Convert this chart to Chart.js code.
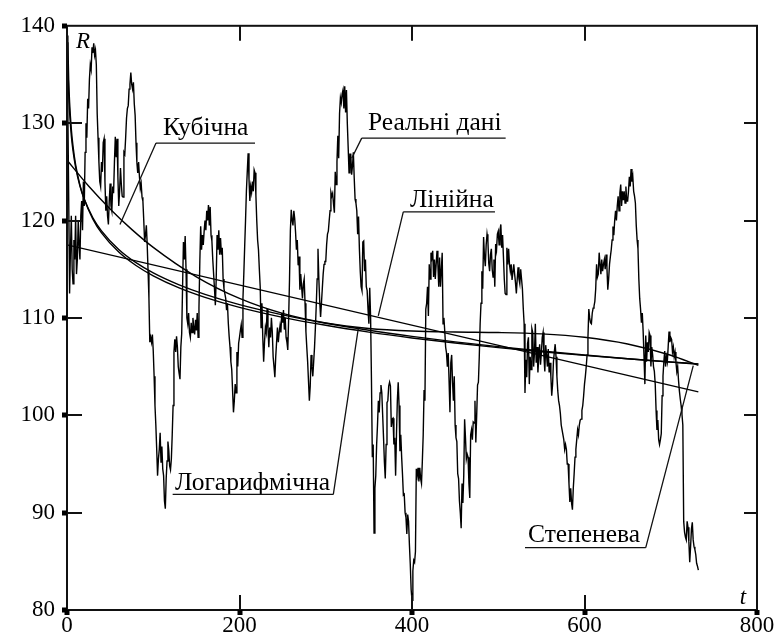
<!DOCTYPE html>
<html><head><meta charset="utf-8">
<script src="https://cdn.jsdelivr.net/npm/chart.js@4.4.0/dist/chart.umd.min.js"></script>
<style>html,body{margin:0;padding:0;background:#fff}#wrap{width:779px;height:640px}</style>
</head><body><div id="wrap"><canvas id="c" width="779" height="640"></canvas></div>
<script>
// Real data R(t), t = 0,1,2,...,732
const rData = [
139,131,122,112.5,117,120.5,115,113.5,118,116,120.5,114.5,116,120,117.5,116,120.5,122,119,124,
121.5,127,130,128.5,132.5,131.5,134.5,136,135.5,137.8,137.2,138.2,137,137.5,136,131,128.5,126,124,123.5,
126,125,128,128.4,124,121,122.5,120.5,119.6,122,123.8,121.5,121,123.5,122.8,126,128.6,126.5,128.4,124.5,
121.5,123,125.4,123.7,122.5,122.4,127,126.8,128.5,130.5,131.5,131.8,133.5,134,135.2,134,133.5,134.2,132,130.8,
128,126,124.9,126,124.5,123.3,123.8,122.4,122,120,117.8,118.5,119.5,117.5,114.8,112,107.5,108,107.5,108.3,
106.6,104,101,99,96.5,93.8,95.5,96.5,98.2,95.2,96.8,94.5,93.8,91.2,90.4,93.5,95.3,97.3,96.4,94.8,
94.4,95.5,98,101,106.5,107.8,106.5,108.1,107,105,104.3,103.7,107,108.4,113.2,117.8,116,118.4,115,110,
109.4,110.5,108.5,108,109.5,108.5,110,109,108.3,109.8,108.7,110.5,108,111,115.8,119.4,117,118.5,117.5,118.9,
120,119,121,120,121.6,119.5,121.4,118.5,117.9,116,114.5,113,111.3,114,118.5,117,119,116.5,118.2,116.5,
117.2,114,113,112.5,112,110.8,111.5,109.5,108.1,107,105.5,104.7,102.5,100.3,101.5,103.2,102.3,106.5,105,107.4,
108,108.7,109.3,108,112,114.5,117.3,120,123,125,126.9,124.3,122,123.5,122.9,124,123,125.2,124.9,122.6,
120,118,117,115,113.2,109,111.5,108,105.5,107.5,109,108.5,110.9,109,107,109,108,110,108.6,106,
105,103.9,106,107.5,109,107.5,108.5,109.2,108.5,110.5,109.5,110.8,108.8,110,108,107.5,106.7,110,114,119,
121.1,120,119.5,121,120.2,118.8,117,118,115.4,116.3,112.9,114.5,113.2,112,113.5,114,111.5,108.6,107,105.5,
103.5,101.5,103,106.2,105,104,105.5,107,109,111.3,114,117.1,114,111.7,110.1,111.5,113,114.5,115.5,115.8,
115.8,117.5,118.6,118.9,120,121,122.9,122.5,122.8,121.7,120.8,125,123.7,126,128.7,126.4,131,132.6,132.1,133,
133.4,131.5,133.8,131.1,133.4,130,127.5,124.9,126.8,126.8,124.7,125.6,127,124.4,122.2,121.8,121,118.6,120.4,117.1,
114.8,113.2,112.8,117.8,117.9,114.8,116,113.2,112.8,110.9,109.4,113.1,110.1,103.6,95.7,97,87.9,92.5,93.8,97,
99,101.5,100.3,102.3,103.1,102.3,100,97.7,95.2,93.5,97,101.3,101.5,103,103.4,103,98.8,99.6,99.7,97,
97.7,93.8,98,101.5,103.4,101,96.3,98,95.7,93.9,91.8,91.9,90,89.5,87.8,89.8,89.1,86.7,84.7,82.1,
81,84,85.1,84.9,86,94.5,93.8,94.6,93.2,94.6,93.5,93,95.3,98,102.6,101.5,110.9,111.5,113.2,110.2,
115.5,114,116.7,116.2,116.9,114.2,116,114,115.5,116.9,115.5,113.2,116.2,113.2,114.9,116.7,109.4,110,108.6,107,
106.4,105,106.4,103.5,100.3,105.4,106.2,103.4,101.5,104,99,97.7,97.3,94,93.5,91.2,90,88.4,93,91,
93.8,99.6,97.7,95.5,96,95.7,93,91.5,98,98.5,97.5,99.3,99.2,101.5,97.2,100,103.1,103.4,106,109.4,
111.5,114.8,113,118.3,116.3,115.3,117.5,118.6,117.9,115.6,114.8,116.5,117.1,115,114.2,116,113.2,117.6,117,118.6,
118.9,117.5,119,119.6,117.2,118.5,116.3,114,112.5,112.4,117.2,115.5,117.1,115.5,114.8,115.5,113.9,113.9,115.5,114.5,
113.6,112.5,114,115.2,114,113.5,115,114,113,111,109.4,102.3,105.7,103.9,107.4,108,103.2,106,104.7,108.9,
108.5,105,106.4,109.4,105.4,107,104.4,106,107.3,105.2,106.4,108,108.5,106,104.5,107.2,106.2,105,106.8,104.4,
105.4,104,102,103.2,105.5,106.5,107.3,106,104,102.5,101.5,101,100.2,99,98.5,98.5,97.5,96.5,97,96.5,
95,95,93,91.1,92.5,91,90.3,92.5,94,95.7,96.5,97.5,98.5,98,99,99.5,99.6,100.5,101,102,
103.2,104,105,106.2,108,110.9,110,109.5,109.4,110.5,111,111.2,111.7,113,115.5,114.2,114.5,116.7,115.5,114.5,
116,114.8,115.5,116,115,116.5,115.2,112.9,114,115.5,116.3,117,118,119.4,118.5,120,121,120,121.5,122.5,
121,122.8,123.7,121.5,123,122.1,123,121.8,123.5,122,122,123,124.5,123.5,125.3,124,124.5,123,122.5,121.8,
119.5,118,117.1,114,112,110.9,109.5,110.5,108.6,106,103.2,108.2,105.5,107.5,106.5,108.5,108.2,105,107,106.2,
105,104.5,103.2,100.5,98.5,99.5,97.5,97,97.5,98.1,102,104,105.5,106.6,105,106,105.5,107,108.6,107.5,
108,107.8,106.5,107,106,106.5,105.5,104.5,105,103.6,102.5,101.7,101,100.1,99,89.1,88,87.5,87.2,89.1,
88.5,87,84.9,86.5,88.3,89,87.2,86.5,86.2,85.7,84.8,84.5,84.1
];
const tData = rData.map((_, i) => i); // sampling times 0..732

// Trend curves
const fitT = [1,2,3,5,7,10,15,20,30,40,60,80,100,130,160,200,250,300,350,400,450,500,550,600,650,700,732];
const logR = [136.3,133.04,131.13,128.72,127.14,125.46,123.55,122.2,120.29,118.94,117.03,115.67,114.62,113.39,112.41,111.36,110.31,109.45,108.73,108.1,107.54,107.05,106.6,106.19,105.81,105.46,105.25];
const powR = [138.3,134.39,132.16,129.39,127.61,125.74,123.64,122.18,120.15,118.73,116.76,115.38,114.32,113.08,112.11,111.08,110.06,109.24,108.54,107.94,107.42,106.95,106.53,106.15,105.8,105.47,105.28];
const cubT = [0,25,50,75,100,150,200,250,300,350,400,450,500,550,600,650,700,732];
const cubR = [126.2,123.55,121.19,119.09,117.24,114.22,112.0,110.46,109.48,108.91,108.65,108.55,108.5,108.36,108.01,107.32,106.16,105.12];
const linT = [0,732];
const linR = [117.5,102.4];

const xTicks = [0,200,400,600,800];
const yTicks = [80,90,100,110,120,130,140];

// Callout labels (in data units): text position, underline, leader end
const callouts = [
  {text:'Кубічна',      tx:111.3, ty:128.8, u0:103.2, u1:218,   uy:127.96, from:'left',  lt:61.4,  lr:119.6},
  {text:'Реальні дані', tx:349,   ty:129.3, u0:341.7, u1:508.6, uy:128.46, from:'left',  lt:330.1, lr:126.4},
  {text:'Лінійна',      tx:397.7, ty:121.4, u0:389.9, u1:496.2, uy:120.88, from:'left',  lt:360.9, lr:110.2},
  {text:'Логарифмічна', tx:125.2, ty:92.35, u0:122.5, u1:308.8, uy:91.87,  from:'right', lt:337.7, lr:108.9},
  {text:'Степенева',    tx:534.5, ty:87.0,  u0:531,   u1:671,   uy:86.4,   from:'right', lt:726.1, lr:105.1}
];

function pts(ts, rs){ return ts.map((t,i)=>({x:t, y:rs[i]})); }
const lineStyle = {borderColor:'#000', borderWidth:1.4, pointRadius:0, tension:0, fill:false};

const framePlugin = {
  id:'frame',
  afterDraw(chart){
    const {ctx, chartArea:a, scales:{x, y}} = chart;
    ctx.save();
    ctx.strokeStyle = '#111'; ctx.fillStyle = '#000';
    ctx.lineWidth = 2;
    ctx.strokeRect(a.left, a.top, a.right-a.left, a.bottom-a.top);
    yTicks.forEach(v=>{
      const py = Math.round(y.getPixelForValue(v));
      ctx.fillRect(a.left-5, py-2.5, 5, 5);
      if (v>80 && v<140){
        ctx.beginPath(); ctx.moveTo(a.left, py); ctx.lineTo(a.left+15, py);
        ctx.moveTo(a.right, py); ctx.lineTo(a.right-13, py); ctx.stroke();
      }
    });
    xTicks.forEach(v=>{
      const px = Math.round(x.getPixelForValue(v));
      ctx.fillRect(px-2.5, a.bottom, 5, 5);
      if (v>0 && v<800){
        ctx.beginPath(); ctx.moveTo(px, a.bottom); ctx.lineTo(px, a.bottom-15);
        ctx.moveTo(px, a.top); ctx.lineTo(px, a.top+15); ctx.stroke();
      }
    });
    // axis letters
    ctx.fillStyle = '#000';
    ctx.font = 'italic 23px "Liberation Serif"';
    ctx.textAlign = 'left'; ctx.textBaseline = 'alphabetic';
    ctx.fillText('R', x.getPixelForValue(10.4), y.getPixelForValue(137.7));
    ctx.fillText('t', x.getPixelForValue(780), y.getPixelForValue(80.6));
    // callouts
    ctx.font = '25.5px "Liberation Serif"';
    ctx.lineWidth = 1.3; ctx.strokeStyle = '#111';
    callouts.forEach(c=>{
      ctx.fillText(c.text, x.getPixelForValue(c.tx), y.getPixelForValue(c.ty));
      const uy = y.getPixelForValue(c.uy);
      const ux0 = x.getPixelForValue(c.u0), ux1 = x.getPixelForValue(c.u1);
      const sx = c.from==='left' ? ux0 : ux1;
      ctx.beginPath(); ctx.moveTo(ux0, uy); ctx.lineTo(ux1, uy);
      ctx.moveTo(sx, uy); ctx.lineTo(x.getPixelForValue(c.lt), y.getPixelForValue(c.lr));
      ctx.stroke();
    });
    ctx.restore();
  }
};

new Chart(document.getElementById('c'), {
  type:'line',
  data:{datasets:[
    Object.assign({label:'Реальні дані', data:pts(tData, rData)}, lineStyle),
    Object.assign({label:'Лінійна', data:pts(linT, linR)}, lineStyle),
    Object.assign({label:'Логарифмічна', data:pts(fitT, logR), cubicInterpolationMode:'monotone'}, lineStyle),
    Object.assign({label:'Степенева', data:pts(fitT, powR), cubicInterpolationMode:'monotone'}, lineStyle),
    Object.assign({label:'Кубічна', data:pts(cubT, cubR), cubicInterpolationMode:'monotone'}, lineStyle)
  ]},
  options:{
    responsive:false, animation:false, devicePixelRatio:1,
    layout:{padding:{top:17, right:22, bottom:0, left:0}},
    plugins:{legend:{display:false}, tooltip:{enabled:false}},
    scales:{
      x:{type:'linear', min:0, max:800,
         afterBuildTicks(s){ s.ticks = xTicks.map(v=>({value:v})); },
         afterFit(s){ s.height = 30; },
         grid:{display:false, drawTicks:false}, border:{display:false},
         ticks:{padding:2, color:'#000', font:{family:'Liberation Serif', size:23}, maxRotation:0}},
      y:{type:'linear', min:80, max:140,
         afterBuildTicks(s){ s.ticks = yTicks.map(v=>({value:v})); },
         afterFit(s){ s.width = 67; },
         grid:{display:false, drawTicks:false}, border:{display:false},
         ticks:{padding:12, color:'#000', font:{family:'Liberation Serif', size:23}}}
    }
  },
  plugins:[framePlugin]
});
</script></body></html>
